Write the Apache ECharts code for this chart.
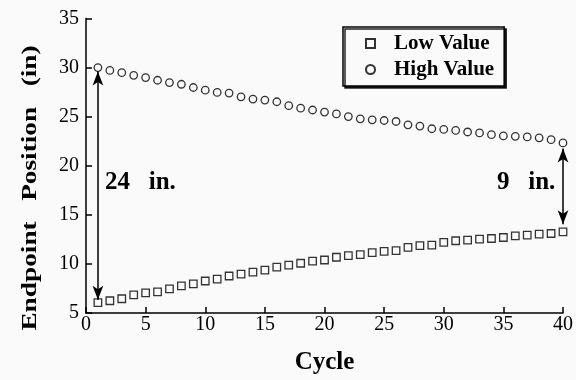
<!DOCTYPE html>
<html>
<head>
<meta charset="utf-8">
<script src="https://cdn.jsdelivr.net/npm/echarts@6/dist/echarts.min.js"></script>
<style>
html,body{margin:0;padding:0;background:#fafafa;}
#chart{width:576px;height:380px;}
</style>
</head>
<body>
<div id="chart"></div>
<script>
var cycles = [1,2,3,4,5,6,7,8,9,10,11,12,13,14,15,16,17,18,19,20,21,22,23,24,25,26,27,28,29,30,31,32,33,34,35,36,37,38,39,40];
var lowValues = [6.05,6.25,6.45,6.85,7.05,7.15,7.46,7.76,7.96,8.26,8.46,8.77,8.97,9.17,9.37,9.67,9.87,10.07,10.28,10.4,10.68,10.85,10.95,11.15,11.28,11.35,11.69,11.86,11.92,12.19,12.36,12.42,12.52,12.59,12.69,12.86,12.93,13.03,13.1,13.27];
var highValues = [30.0,29.71,29.48,29.21,28.98,28.71,28.47,28.3,27.97,27.7,27.47,27.4,27.02,26.79,26.69,26.52,26.12,25.86,25.68,25.47,25.28,25.01,24.78,24.68,24.61,24.51,24.17,24.04,23.77,23.7,23.6,23.44,23.34,23.17,23.04,23.0,22.94,22.84,22.66,22.33];
var seriesNames = ['Low Value','High Value'];
var xTicks = [0,5,10,15,20,25,30,35,40];
var yTicks = [5,10,15,20,25,30,35];
var xTitle = 'Cycle';
var yTitle = 'Endpoint   Position   (in)';
var spanLabels = ['24   in.','9   in.'];
// arrow tips (cycle, value)
var leftArrow = [[1, 29.6], [1, 6.35]];
var rightArrow = [[40, 21.76], [40, 14.05]];

var FONT = "'Liberation Serif','Times New Roman',serif";
function pairs(xs, ys){ return xs.map(function(x,i){ return [x, ys[i]]; }); }

var chart = echarts.init(document.getElementById('chart'));
chart.setOption({
  backgroundColor: '#fafafa',
  animation: false,
  grid: {left: 86, right: 13, top: 18.5, bottom: 63.6, containLabel: false},
  xAxis: {
    type: 'value', min: xTicks[0], max: xTicks[xTicks.length-1], interval: 5,
    name: xTitle, nameLocation: 'middle', nameGap: 37,
    nameTextStyle: {fontFamily: FONT, fontWeight: 'bold', fontSize: 25, color: '#000'},
    axisLine: {show: true, lineStyle: {color: '#000', width: 1.5}},
    axisTick: {show: true, inside: true, length: 6, lineStyle: {color: '#000', width: 1.5}},
    axisLabel: {fontFamily: FONT, fontSize: 20, color: '#000', margin: 2},
    splitLine: {show: false}
  },
  yAxis: {
    type: 'value', min: yTicks[0], max: yTicks[yTicks.length-1], interval: 5,
    axisLine: {show: true, lineStyle: {color: '#000', width: 1.5}},
    axisTick: {show: true, inside: true, length: 6, lineStyle: {color: '#000', width: 1.5}},
    axisLabel: {fontFamily: FONT, fontSize: 20, color: '#000', margin: 7},
    splitLine: {show: false}
  },
  legend: {
    orient: 'vertical', left: 343, top: 27,
    data: seriesNames,
    itemWidth: 9, itemHeight: 9, itemGap: 5,
    padding: [6, 10, 6, 22],
    borderColor: '#000', borderWidth: 1.5,
    backgroundColor: '#fafafa',
    shadowColor: 'rgba(0,0,0,0.85)', shadowBlur: 0, shadowOffsetX: 2, shadowOffsetY: 2,
    textStyle: {fontFamily: FONT, fontWeight: 'bold', fontSize: 21, color: '#000', padding: [0,0,0,14]}
  },
  series: [
    {
      name: seriesNames[0], type: 'scatter', symbol: 'rect', symbolSize: 7.5,
      itemStyle: {color: 'transparent', borderColor: '#000', borderWidth: 1.3},
      data: pairs(cycles, lowValues),
      markLine: {
        silent: true, symbol: ['arrow','arrow'], symbolSize: [8, 14],
        lineStyle: {color: '#000', width: 1.5, type: 'solid'},
        itemStyle: {color: '#000'},
        label: {show: false},
        data: [
          [{coord: leftArrow[0]}, {coord: leftArrow[1]}],
          [{coord: rightArrow[0]}, {coord: rightArrow[1]}]
        ]
      }
    },
    {
      name: seriesNames[1], type: 'scatter', symbol: 'circle', symbolSize: 7.5,
      itemStyle: {color: 'transparent', borderColor: '#000', borderWidth: 1.3},
      data: pairs(cycles, highValues)
    }
  ],
  graphic: [
    {type: 'text', x: 31, y: 188, rotation: Math.PI/2, scaleX: 1.3, scaleY: 1,
     style: {text: yTitle, font: "bold 21px 'Liberation Serif','Times New Roman',serif", fill: '#000', align: 'center', verticalAlign: 'middle'}},
    {type: 'text', left: 105, top: 170, style: {text: spanLabels[0], font: "bold 25px 'Liberation Serif','Times New Roman',serif", fill: '#000'}},
    {type: 'text', left: 497, top: 170, style: {text: spanLabels[1], font: "bold 25px 'Liberation Serif','Times New Roman',serif", fill: '#000'}}
  ]
});
</script>
</body>
</html>
